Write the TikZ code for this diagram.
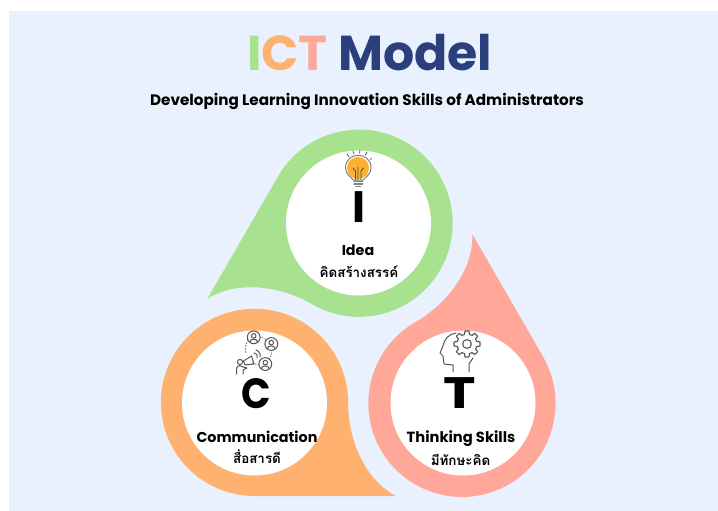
\documentclass[tikz,border=0pt]{standalone}
\usepackage{graphicx}
\usepackage{fontspec}
\setmainfont{Poppins}
\newfontfamily\thaifont[Script=Thai]{Loma}
\definecolor{panelbg}{HTML}{E9F1FE}
\definecolor{dropgreen}{HTML}{A8E28F}
\definecolor{droporange}{HTML}{FFB270}
\definecolor{dropsalmon}{HTML}{FFA89A}
\definecolor{navy}{HTML}{2A3F7C}
\definecolor{icongrey}{HTML}{555555}
\definecolor{bulbfill}{HTML}{FBB32F}
\tikzset{
  titlefont/.style={font=\fontsize{49}{50}\selectfont\bfseries,inner sep=0pt},
  subfont/.style={font=\fontsize{15.2}{16}\selectfont\bfseries,text=black,inner sep=0pt},
  bigletter/.style={font=\fontsize{44}{44}\selectfont\bfseries,text=black,inner sep=0pt,anchor=base},
  labelen/.style={font=\fontsize{14.3}{16}\selectfont\bfseries,text=black,inner sep=0pt,anchor=base},
  labelth/.style={font=\thaifont\fontsize{13.4}{16}\selectfont\bfseries,text=black,inner sep=0pt,anchor=base},
  iconline/.style={draw=icongrey,line width=1pt,line cap=round,line join=round},
  hole/.style={fill=white,draw=none}
}
\newcommand{\dropshape}{(37.5,-153) -- (-104,-153) arc[start angle=270,end angle=0,radius=93.6] .. controls (-10.4,-97) and (6.5,-137) .. cycle}
\newcommand{\personicon}[2]{%
  \draw[iconline,fill=white] (#1,#2) circle[radius=6.4];
  \draw[iconline] (#1,#2-1.4) circle[radius=2.3];
  \draw[iconline] (#1-3.9,#2+4.6) .. controls (#1-3.5,#2+1) and (#1+3.5,#2+1) .. (#1+3.9,#2+4.6);
}
\begin{document}
\begin{tikzpicture}[x=1pt,y=-1pt]
\useasboundingbox (0,0) rectangle (718,511);
\fill[white] (0,0) rectangle (718,511);
\fill[panelbg] (9,11) rectangle (718,511);
% teardrops
\begin{scope}[shift={(358.5,343)},y=1pt]
  \fill[droporange] \dropshape;
  \fill[dropgreen,rotate=-120] \dropshape;
  \fill[dropsalmon,rotate=120] \dropshape;
\end{scope}
\fill[hole] (358.5,223) circle[radius=72.5];
\fill[hole] (254.5,403) circle[radius=72.5];
\fill[hole] (463,403) circle[radius=72.5];
% title
\node[titlefont,anchor=base west] (titlei) at (247,70.500) {\textcolor{dropgreen}{I}\textcolor{droporange}{C}\textcolor{dropsalmon}{T} \textcolor{navy}{Model}};
\node[subfont] (subtitle) at (367,101.500) {Developing Learning Innovation Skills of Administrators};
% bulb icon
\fill[bulbfill] (358,168) circle[radius=11];
\draw[iconline,draw=gray] (353,180) .. controls (352,177) and (345.500,175) .. (345.500,168) .. controls (345.500,151) and (371,151) .. (371,168) .. controls (371,175) and (364.500,177) .. (363.500,180) -- cycle;
\draw[iconline,line width=0.8pt,draw=black!70] (355.500,180) -- (355.500,171) -- (353,168) (358,180) -- (358,167) (361,180) -- (361,171) -- (363.500,168);
\foreach \ya in {181.500,184}{\draw[iconline,line width=1.4pt,draw=gray] (354,\ya) -- (362.500,\ya);}
\draw[iconline,line width=1.2pt,draw=gray] (356,186.500) -- (360.500,186.500);
\draw[iconline,line width=0.7pt] (347,154) -- (349,157) (353,151) -- (354,154) (360,150) -- (359.500,153) (367,152) -- (365.500,155) (372,158) -- (370,160);
% letters
\node[bigletter] (letteri) at (358.500,222) {I};
\node[bigletter] (letterc) at (256.500,408) {\scalebox{0.88}[0.96]{C}};
\node[bigletter] (lettert) at (460,408) {\scalebox{1.25}[1]{T}};
% labels
\node[labelen] (ideaen) at (358,255) {Idea};
\node[labelth] (ideath) at (359,277) {คิดสร้างสรรค์};
\node[labelen] (commen) at (257,442) {Communication};
\node[labelth] (commth) at (257,463) {สื่อสารดี};
\node[labelen,font=\fontsize{14.7}{16}\selectfont\bfseries] (thinken) at (461,442) {Thinking Skills};
\node[labelth] (thinkth) at (460.500,465) {มีทักษะคิด};
% communication icon
\draw[iconline,dotted,draw=gray] (259,337) .. controls (263,337) and (266,339) .. (271,344);
\draw[iconline,dotted,draw=gray] (272,350) .. controls (272,355) and (270,358) .. (267,362);
\draw[iconline,dotted,draw=gray] (248,340) .. controls (245,345) and (245,349) .. (246,354);
\draw[iconline,dotted,draw=gray] (259,365) -- (252,363);
\personicon{253.7}{337.3}
\personicon{271.3}{344}
\personicon{265.3}{364}
\draw[iconline] (254,353) .. controls (256,353) and (258,355) .. (257,358);
\draw[iconline] (256,350) .. controls (259,351) and (261,354) .. (260,357);
\draw[iconline] (243.500,361) -- (251.500,356) -- (254,364) -- (245,365) -- cycle;
\draw[iconline] (236.500,374) -- (236.500,368) .. controls (238,365) and (241,365) .. (243,367) -- (247,368) -- (243,370) -- (243,374);
\draw[iconline] (240,362) circle[radius=2.6];
% head and gear icon
\draw[iconline] (453,372) -- (453,365) -- (444,364) -- (443,356) -- (440,353) -- (443,346) .. controls (444,339) and (449,334) .. (456,333);
\draw[iconline] (469,372) -- (469,364) -- (473,358);
\begin{scope}[shift={(467,344)}]
\draw[iconline,line width=1.1pt] (-14:10) \foreach \a in {0,45,...,315}{ -- (\a-14:10) -- (\a-9:13.2) -- (\a+9:13.2) -- (\a+14:10)} -- cycle;
\draw[iconline,line width=1.1pt] (0,0) circle[radius=4.4];
\end{scope}
\end{tikzpicture}
\end{document}
